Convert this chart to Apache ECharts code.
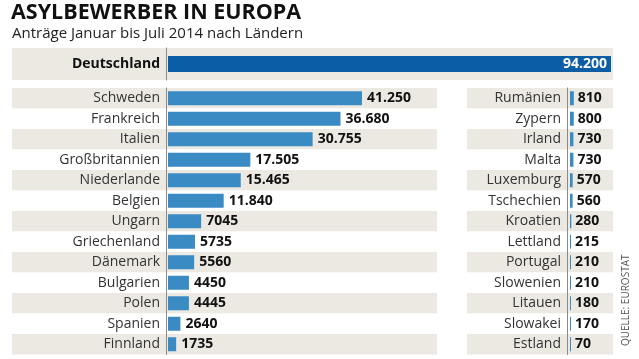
<!DOCTYPE html>
<html><head><meta charset="utf-8">
<script src="https://cdn.jsdelivr.net/npm/echarts@6/dist/echarts.min.js"></script>
<style>html,body{margin:0;padding:0;background:#fff}#c{width:639px;height:359px}</style>
</head><body><div id="c"></div>
<script>
const topCountry = ['Deutschland'];
const topValues = [94200];
const leftCountries = ['Schweden','Frankreich','Italien','Großbritannien','Niederlande','Belgien','Ungarn','Griechenland','Dänemark','Bulgarien','Polen','Spanien','Finnland'];
const leftValues = [41250,36680,30755,17505,15465,11840,7045,5735,5560,4450,4445,2640,1735];
const rightCountries = ['Rumänien','Zypern','Irland','Malta','Luxemburg','Tschechien','Kroatien','Lettland','Portugal','Slowenien','Litauen','Slowakei','Estland'];
const rightValues = [810,800,730,730,570,560,280,215,210,210,180,170,70];

const FONT = '"Open Sans", sans-serif';
const PX = 443 / 94200; // pixels per unit, shared scale
function fmt(v){ return v >= 10000 ? String(v).replace(/\B(?=(\d{3})+(?!\d))/g, '.') : String(v); }
const W = 639;
// panels: [bandLeft, barStartX, right, top, height, axisOffset, labelMargin]
const panels = [[12,168,613,48,32,2,6],[12,168,437,88,266.5,2,6],[467,570,613,88,266.5,3,6]];
const cats = [topCountry, leftCountries, rightCountries];
const vals = [topValues, leftValues, rightValues];
const bandColors = [['#ece9e3'], ['#ece9e3','#ffffff'], ['#ece9e3','#ffffff']];

const grids = [], xAxes = [], yAxes = [], series = [];
panels.forEach((p, i) => {
  grids.push({left:p[0], right:W-p[2], top:p[3], height:p[4], containLabel:false, outerBoundsMode:'none'});
  xAxes.push({type:'value', gridIndex:grids.length-1, min:0, max:1, show:false});
  yAxes.push({type:'category', gridIndex:grids.length-1, data:cats[i], inverse:true,
    axisLine:{show:false}, axisTick:{show:false}, axisLabel:{show:false}, splitLine:{show:false},
    splitArea:{show:true, areaStyle:{color:bandColors[i]}}});
  grids.push({left:p[1], right:W-p[2], top:p[3], height:p[4], containLabel:false, outerBoundsMode:'none'});
  const gi = grids.length-1;
  xAxes.push({type:'value', gridIndex:gi, min:0, max:(p[2]-p[1])/PX, show:false, splitLine:{show:false}});
  yAxes.push({type:'category', gridIndex:gi, data:cats[i], inverse:true, offset:p[5],
    axisLine:{show:true, onZero:false, lineStyle:{color:'#8a8a8a', width:1}}, axisTick:{show:false},
    axisLabel:{color: i===0 ? '#111' : '#333', fontFamily:FONT, fontSize:14, fontWeight: i===0 ? 'bold':'normal', margin:p[6]},
    splitArea:{show:false}, splitLine:{show:false}});
  series.push(i===0 ? {
      type:'bar', xAxisIndex:gi, yAxisIndex:gi, data:vals[i], barWidth:16, itemStyle:{color:'#0b5ea6'},
      label:{show:true, position:'insideRight', distance:4, color:'#fff', fontFamily:FONT, fontSize:14, fontWeight:'bold', formatter:q=>fmt(q.value)}
    } : {
      type:'bar', xAxisIndex:gi, yAxisIndex:gi, data:vals[i], barWidth:14, barMinHeight:1, itemStyle:{color:'#3a8ac3'},
      label:{show:true, position:'right', distance: i===1 ? 5 : 4, color:'#111', fontFamily:FONT, fontSize:14, fontWeight:'bold', formatter:q=>fmt(q.value)}
    });
});

const chart = echarts.init(document.getElementById('c'));
chart.setOption({
  animation:false,
  title:[
    {text:'ASYLBEWERBER IN EUROPA', left:11, top:2, padding:0, textStyle:{fontFamily:FONT, fontSize:21.5, fontWeight:'bold', color:'#111'}},
    {text:'Anträge Januar bis Juli 2014 nach Ländern', left:12, top:26, padding:0, textStyle:{fontFamily:FONT, fontSize:15, fontWeight:'normal', color:'#222'}}
  ],
  grid:grids, xAxis:xAxes, yAxis:yAxes, series,
  graphic:[
    {type:'text', x:621, y:346, rotation:Math.PI/2, style:{text:'QUELLE: EUROSTAT', fill:'#555', font:'10px '+FONT}}
  ]
});
</script></body></html>
